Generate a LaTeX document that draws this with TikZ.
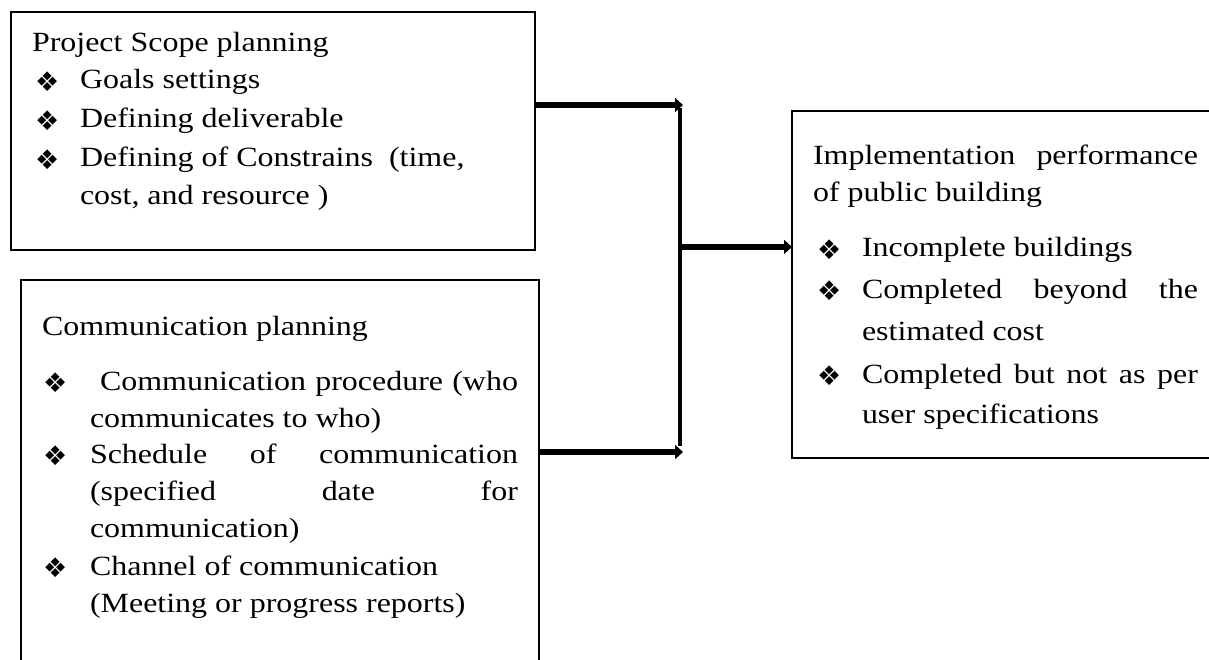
\documentclass[tikz,border=0pt]{standalone}
\usepackage{fontspec}
\setmainfont{Liberation Serif}[FakeStretch=1.15]
\newfontfamily\bulfont{DejaVu Sans}
\usetikzlibrary{arrows.meta,calc}
\newcommand{\txtsize}{\fontsize{27.8}{33}\selectfont}
\newcommand{\bulglyph}{\raisebox{-2.5pt}{\bulfont\fontsize{27}{27}\selectfont ❖}}
\tikzset{
  boxnode/.style={draw=black, line width=2.4pt, rectangle, anchor=north west, outer sep=0pt, inner sep=0pt},
  txt/.style={anchor=base west, inner sep=0pt, outer sep=0pt, font=\txtsize},
  bul/.style={anchor=base west, inner sep=0pt, outer sep=0pt},
  thickarr/.style={line width=6pt, -{Triangle[length=8pt,width=14pt]}},
  vline/.style={line width=3.5pt}
}
\begin{document}
\begin{tikzpicture}[x=1pt,y=-1pt]
\useasboundingbox (0,0) rectangle (1209,660);
\fill[white] (0,0) rectangle (1209,660);
\clip (0,0) rectangle (1209,660);

% boxes
\node[boxnode, minimum width=524pt, minimum height=238pt] (b1) at (11,12) {};
\node[boxnode, minimum width=518pt, minimum height=430pt] (b2) at (21,280) {};
\node[boxnode, minimum width=440pt, minimum height=347pt] (b3) at (792,111) {};

% box 1 text
\node[txt] (t1a) at (32,52) {Project Scope planning};
\node[bul] (u1a) at (35,89) {\bulglyph};
\node[txt] (t1b) at (80,89) {Goals settings};
\node[bul] (u1b) at (35,128) {\bulglyph};
\node[txt] (t1c) at (80,128) {Defining deliverable};
\node[bul] (u1c) at (35,167) {\bulglyph};
\node[txt] (t1d) at (80,167) {Defining of Constrains\ \ (time,};
\node[txt] (t1e) at (80,205) {cost, and resource )};

% box 2 text
\node[txt] (t2a) at (42,335) {Communication planning};
\node[bul] (u2a) at (43,390) {\bulglyph};
\node[txt] (t2b) at (100,390) {\makebox[418pt][s]{Communication procedure (who}};
\node[txt] (t2c) at (90,427) {communicates to who)};
\node[bul] (u2b) at (43,463) {\bulglyph};
\node[txt] (t2d) at (90,463) {\makebox[428pt][s]{Schedule of communication}};
\node[txt] (t2e) at (90,500) {\makebox[428pt][s]{(specified date for}};
\node[txt] (t2f) at (90,537) {communication)};
\node[bul] (u2c) at (43,575) {\bulglyph};
\node[txt] (t2g) at (90,575) {Channel of communication};
\node[txt] (t2h) at (90,612) {(Meeting or progress reports)};

% box 3 text
\node[txt] (t3a) at (813,165) {\makebox[385pt][s]{Implementation performance}};
\node[txt] (t3b) at (813,202) {of public building};
\node[bul] (u3a) at (817,257) {\bulglyph};
\node[txt] (t3c) at (862,257) {Incomplete buildings};
\node[bul] (u3b) at (817,298) {\bulglyph};
\node[txt] (t3d) at (862,298) {\makebox[336pt][s]{Completed beyond the}};
\node[txt] (t3e) at (862,340) {estimated cost};
\node[bul] (u3c) at (817,383) {\bulglyph};
\node[txt] (t3f) at (862,383) {\makebox[336pt][s]{Completed but not as per}};
\node[txt] (t3g) at (862,423) {user specifications};

% connectors
\coordinate (jt) at (683,105);
\coordinate (jb) at (683,452);
\coordinate (vt) at (680,108);
\coordinate (vb) at (680,446);
\coordinate (jm) at (680,247);
\draw[thickarr] (b1.east |- jt) -- (jt);
\draw[thickarr] (b2.east |- jb) -- (jb);
\draw[vline] (vt) -- (vb);
\draw[thickarr] (jm) -- (b3.west |- jm);
\end{tikzpicture}
\end{document}
